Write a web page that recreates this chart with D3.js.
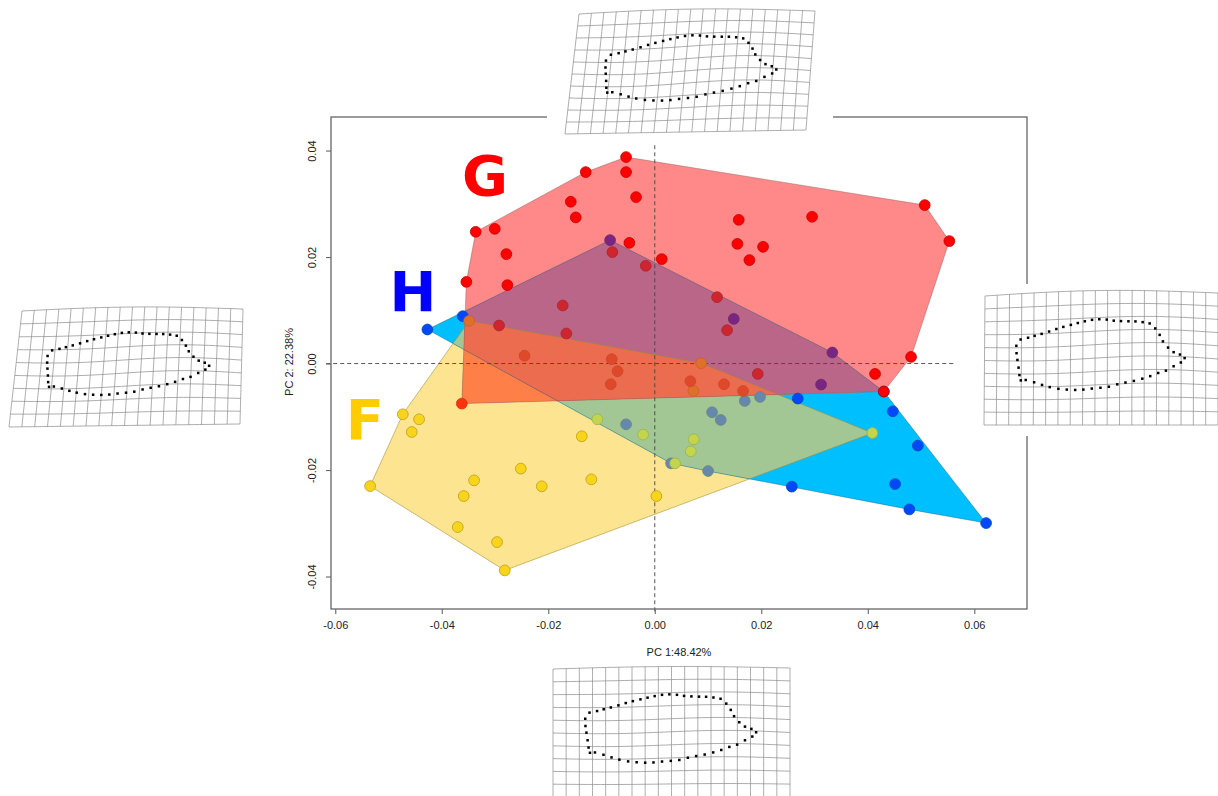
<!DOCTYPE html>
<html><head><meta charset="utf-8">
<script src="https://cdn.jsdelivr.net/npm/d3@7"></script>
<style>body{margin:0;background:#fff}svg{display:block}</style>
</head><body><svg id="c" width="1218" height="796"></svg>
<script>
// ---------------- DATA ----------------
const X_TICKS = [-0.06,-0.04,-0.02,0,0.02,0.04,0.06];
const X_TICK_LABELS = ["-0.06","-0.04","-0.02","0.00","0.02","0.04","0.06"];
const Y_TICKS = [-0.04,-0.02,0,0.02,0.04];
const Y_TICK_LABELS = ["-0.04","-0.02","0.00","0.02","0.04"];
const X_TITLE = "PC 1:48.42%";
const Y_TITLE = "PC 2: 22.38%";
const GROUPS = ["G","H","F"];

const gX = [-0.00539,-0.00539,-0.00351,-0.01296,-0.01577,-0.01484,-0.03362,-0.03005,-0.02787,-0.03538,-0.02768,-0.00477,0.00131,0.01577,0.02954,0.01551,0.02034,0.01777,0.0507,0.05532,0.04813,0.04137,0.043,-0.03624,-0.00796,-0.00169,-0.01728,-0.0166,-0.02924,0.0117,0.01358,0.01934,-0.02445,-0.00808,-0.00699,-0.00826,0.00669,0.01301,0.01658];
const gY = [0.03878,0.03596,0.03126,0.03596,0.03038,0.02744,0.02474,0.0253,0.02055,0.01534,0.01472,0.02267,0.01961,0.02699,0.02756,0.02248,0.02192,0.01942,0.02976,0.02299,0.00124,-0.00195,-0.00526,-0.00752,0.02092,0.01835,0.0109,0.00564,0.00714,0.01246,0.00626,-0.00195,0.00147,0.00081,-0.00145,-0.00389,-0.00333,-0.00389,-0.00515];

const hX = [-0.0427,-0.03606,-0.00839,0.01484,0.03335,0.03123,0.02685,0.0447,0.04939,0.06222,0.04781,0.04513,0.02573,0.043,-0.00539,0.01076,0.01239,0.0169,0.01977,0.00306,0.01001];
const hY = [0.00639,0.00889,0.02318,0.00838,0.00207,-0.00395,-0.00658,-0.00897,-0.01541,-0.02996,-0.02739,-0.02263,-0.02312,-0.00526,-0.01141,-0.00915,-0.0106,-0.00703,-0.00628,-0.01874,-0.02019];

const fX = [-0.04732,-0.04426,-0.04563,-0.05346,-0.01371,-0.02516,-0.03393,-0.02122,-0.01191,-0.03587,0.0003,-0.037,-0.02962,-0.02817,-0.03487,0.0087,0.00725,0.04086,-0.01078,-0.0022,0.00732,0.00676,0.00381];
const fY = [-0.00953,-0.01047,-0.01286,-0.02301,-0.01367,-0.01974,-0.02194,-0.02306,-0.02175,-0.02489,-0.02489,-0.03071,-0.03353,-0.03885,0.00801,0.00006,-0.00515,-0.01305,-0.01047,-0.01335,-0.01423,-0.01648,-0.01874];

// mean shape outline (normalised grid coords) used in the deformation grids
const OUTLINE_U = [0.154,0.186,0.214,0.244,0.276,0.307,0.337,0.369,0.399,0.429,0.46,0.491,0.523,0.553,0.584,0.616,0.646,0.677,0.707,0.731,0.75,0.764,0.786,0.81,0.837,0.857,0.841,0.81,0.777,0.744,0.71,0.676,0.64,0.604,0.569,0.533,0.497,0.46,0.424,0.389,0.353,0.317,0.28,0.247,0.213,0.177,0.156,0.15,0.146,0.141,0.137,0.136];
const OUTLINE_V = [0.338,0.326,0.313,0.3,0.285,0.269,0.256,0.244,0.233,0.223,0.215,0.213,0.218,0.228,0.233,0.236,0.238,0.244,0.254,0.292,0.341,0.39,0.436,0.469,0.485,0.51,0.544,0.574,0.608,0.626,0.649,0.667,0.682,0.692,0.703,0.718,0.723,0.726,0.731,0.731,0.726,0.718,0.703,0.685,0.664,0.646,0.649,0.608,0.551,0.492,0.441,0.385];

// ---------------- STYLE / LAYOUT ----------------
const W=1218,H=796;
const PLOT = {l:331, r:1027, t:117, b:609};
const POINT_COL = {G:"#ff0000", H:"#0000ff", F:"#ffcc00"};
const LETTER = {G:{x:485,y:195}, H:{x:413,y:311}, F:{x:365,y:439}};
const TINT = {H:{c:"#00c8f0",a:0.36}, F:{c:"#f0e040",a:0.42}, G:{c:"#ff0000",a:0.47}};
const TINT_ORDER = ["H","F","G"];
const REGION_COL = {F:"#fde490", H:"#00bfff", G:"#ff8888", FH:"#a2c794", GF:"#ff7f48", GH:"#ba6688", GFH:"#ec6c50"};
const EDGE_COL = {F:"rgba(160,140,50,0.7)", G:"rgba(140,90,90,0.55)", H:"rgba(40,90,120,0.55)"};

const PANELS = [
  {corners:[[579,14],[815,11],[565,134],[806,130]], cols:19, rows:10, bend:-3.5, wave:2.5, bg:[547,0,286,140]},
  {corners:[[553,669],[790,668],[553,797],[790,797]], cols:18, rows:10, bend:-2, wave:1.5, bg:[545,662,252,134]},
  {corners:[[22,311],[243,309],[9,427],[240,424]], cols:18, rows:9, bend:-3, wave:2, bg:[0,300,250,132]},
  {corners:[[985,296],[1218,293],[984,425],[1218,425]], cols:19, rows:10, bend:-4, wave:2, bg:[976,284,242,152]}
];

// ---------------- DRAW ----------------
const svg = d3.select("#c");
svg.append("rect").attr("width",W).attr("height",H).attr("fill","#fff");

const x = d3.scaleLinear().domain([-0.0608,0.0699]).range([PLOT.l,PLOT.r]);
const y = d3.scaleLinear().domain([-0.0461,0.0463]).range([PLOT.b,PLOT.t]);

const data = {
  G: gX.map((v,i)=>[v,gY[i]]),
  H: hX.map((v,i)=>[v,hY[i]]),
  F: fX.map((v,i)=>[v,fY[i]])
};
const px = {};
const hull = {};
for (const k of GROUPS){
  px[k] = data[k].map(d=>[x(d[0]), y(d[1])]);
  hull[k] = d3.polygonHull(px[k]);
}
const line = d3.line();
const hullPath = k => line(hull[k])+"Z";

const defs = svg.append("defs");
for (const k of GROUPS){
  defs.append("clipPath").attr("id","clip"+k).append("path").attr("d",hullPath(k));
}

// filled regions (with overlap colours)
const regions = [
  {poly:"F", clips:[], col:REGION_COL.F},
  {poly:"H", clips:[], col:REGION_COL.H},
  {poly:"G", clips:[], col:REGION_COL.G},
  {poly:"H", clips:["F"], col:REGION_COL.FH},
  {poly:"G", clips:["F"], col:REGION_COL.GF},
  {poly:"G", clips:["H"], col:REGION_COL.GH},
  {poly:"G", clips:["F","H"], col:REGION_COL.GFH}
];
const regG = svg.append("g");
for (const r of regions){
  let g = regG;
  for (const c of r.clips) g = g.append("g").attr("clip-path",`url(#clip${c})`);
  g.append("path").attr("d",hullPath(r.poly)).attr("fill",r.col);
}
// polygon edges
for (const k of ["F","H","G"]){
  svg.append("path").attr("d",hullPath(k)).attr("fill","none")
    .attr("stroke",EDGE_COL[k]).attr("stroke-width",0.8);
}

// reference dashed lines
svg.append("line").attr("x1",x(-0.0617)).attr("x2",x(0.0564)).attr("y1",y(0)).attr("y2",y(0))
  .attr("stroke","#444").attr("stroke-width",0.9).attr("stroke-dasharray","4,3");
svg.append("line").attr("x1",x(0)).attr("x2",x(0)).attr("y1",y(0.041)).attr("y2",y(-0.0468))
  .attr("stroke","#444").attr("stroke-width",0.9).attr("stroke-dasharray","4,3");

// points, tinted by the translucent hulls lying over them
function mix(a,b,t){
  const A=d3.rgb(a),B=d3.rgb(b);
  return d3.rgb(A.r*(1-t)+B.r*t, A.g*(1-t)+B.g*t, A.b*(1-t)+B.b*t);
}
const ptG = svg.append("g");
for (const k of ["H","F","G"]){
  px[k].forEach(p=>{
    let fill = d3.rgb(POINT_COL[k]);
    let stroke = d3.rgb(POINT_COL[k]).darker(1.6);
    for (const L of TINT_ORDER){
      if (L===k || d3.polygonContains(hull[L], p)){
        fill = mix(fill, TINT[L].c, TINT[L].a);
        stroke = mix(stroke, TINT[L].c, TINT[L].a);
      }
    }
    ptG.append("circle").attr("cx",p[0]).attr("cy",p[1]).attr("r",5.4)
      .attr("fill",fill.formatHex()).attr("stroke",stroke.formatHex()).attr("stroke-width",0.8);
  });
}

// group letters
for (const k of GROUPS){
  svg.append("text").attr("x",LETTER[k].x).attr("y",LETTER[k].y).attr("text-anchor","middle")
    .attr("font-family","DejaVu Sans").attr("font-weight","bold").attr("font-size",56)
    .attr("fill",POINT_COL[k]).text(k);
}

// box + axes
const axisCol="#666";
svg.append("rect").attr("x",PLOT.l).attr("y",PLOT.t).attr("width",PLOT.r-PLOT.l).attr("height",PLOT.b-PLOT.t)
  .attr("fill","none").attr("stroke",axisCol).attr("stroke-width",1.3);
const xa = svg.append("g").attr("transform",`translate(0,${PLOT.b})`)
  .call(d3.axisBottom(x).tickValues(X_TICKS).tickSize(5).tickPadding(7)
    .tickFormat((d,i)=>X_TICK_LABELS[i]));
const ya = svg.append("g").attr("transform",`translate(${PLOT.l},0)`)
  .call(d3.axisLeft(y).tickValues(Y_TICKS).tickSize(5).tickFormat((d,i)=>Y_TICK_LABELS[i]));
for (const a of [xa,ya]){
  a.select(".domain").remove();
  a.selectAll(".tick line").attr("stroke",axisCol).attr("stroke-width",1.1);
  a.selectAll("text").attr("font-family","Liberation Sans, Arial, sans-serif").attr("font-size",11).attr("fill","#222");
}
ya.selectAll(".tick text").attr("x",null).attr("dy",null)
  .attr("text-anchor","middle")
  .attr("transform","translate(-19,0) rotate(-90)");
ya.selectAll(".tick text").attr("y",0).attr("dy","0.35em");

svg.append("text").attr("x",679).attr("y",656).attr("text-anchor","middle")
  .attr("font-family","Liberation Sans, Arial, sans-serif").attr("font-size",11).attr("fill","#222").text(X_TITLE);
svg.append("text").attr("transform","translate(293,362) rotate(-90)").attr("text-anchor","middle")
  .attr("font-family","Liberation Sans, Arial, sans-serif").attr("font-size",11).attr("fill","#222").text(Y_TITLE);

// deformation grids
function warp(p,u,v){
  const [tl,tr,bl,br]=p.corners;
  const X=(1-v)*((1-u)*tl[0]+u*tr[0])+v*((1-u)*bl[0]+u*br[0]);
  let Y=(1-v)*((1-u)*tl[1]+u*tr[1])+v*((1-u)*bl[1]+u*br[1]);
  Y += p.bend*Math.sin(Math.PI*u)*(1-v) + p.wave*Math.sin(2*Math.PI*u)*Math.sin(Math.PI*v);
  return [X,Y];
}
for (const p of PANELS){
  const g = svg.append("g");
  g.append("rect").attr("x",p.bg[0]).attr("y",p.bg[1]).attr("width",p.bg[2]).attr("height",p.bg[3]).attr("fill","#fff");
  const steps=d3.range(0,1.0001,1/40);
  for (let j=0;j<=p.rows;j++){
    g.append("path").attr("d",d3.line()(steps.map(u=>warp(p,u,j/p.rows))))
      .attr("fill","none").attr("stroke","#8a8a8a").attr("stroke-width",0.7);
  }
  for (let i=0;i<=p.cols;i++){
    g.append("path").attr("d",d3.line()(steps.map(v=>warp(p,i/p.cols,v))))
      .attr("fill","none").attr("stroke","#8a8a8a").attr("stroke-width",0.7);
  }
  OUTLINE_U.forEach((u,i)=>{
    const q=warp(p,u,OUTLINE_V[i]);
    g.append("rect").attr("x",q[0]-1.25).attr("y",q[1]-1.25).attr("width",2.5).attr("height",2.5).attr("fill","#000");
  });
}
</script></body></html>
